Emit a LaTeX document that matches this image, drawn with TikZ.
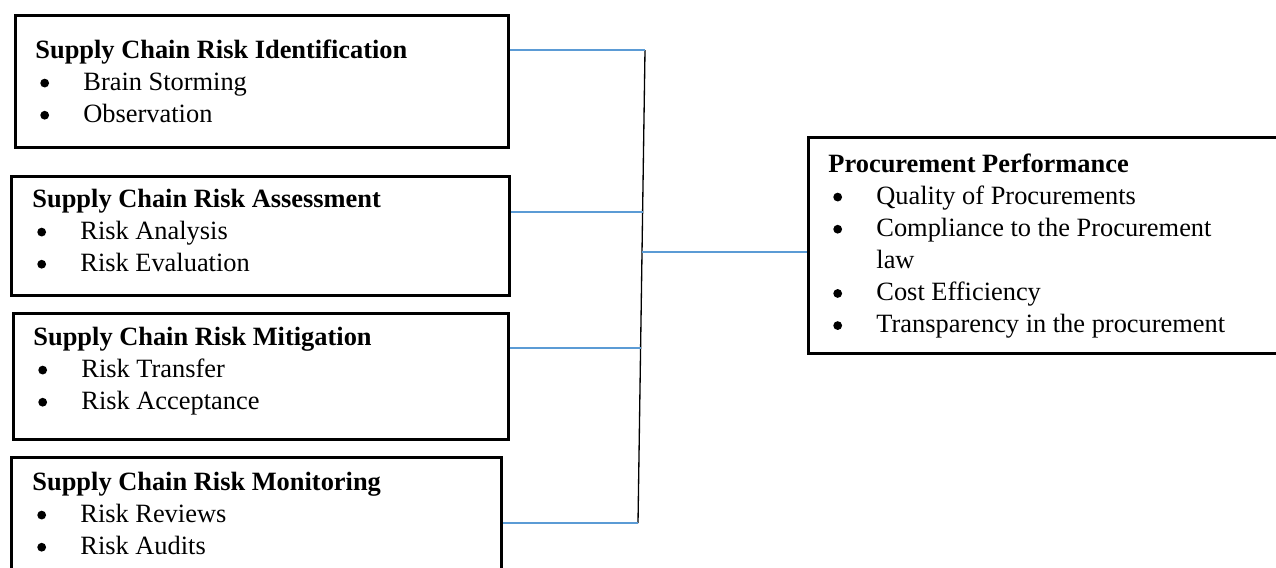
\documentclass[tikz,border=0pt]{standalone}
\usepackage{fontspec}
\setmainfont{Liberation Serif}
\def\px{0.4545pt}
\newcommand{\bigbul}{\tikz[baseline=0pt]\fill[black] (0pt,3.2pt) circle (2pt);}
\newcommand{\bitem}[1]{\hspace*{2.2pt}\makebox[19.6pt][l]{\bigbul}#1\par}
\definecolor{connblue}{HTML}{5B9BD5}
\begin{document}
\begin{tikzpicture}[x=0.4545pt,y=-0.4545pt,
  box/.style={draw=black, line width=1.3pt, inner sep=0pt, anchor=north west},
  txt/.style={anchor=base west, inner sep=0pt, font=\fontsize{12}{14.6}\selectfont},
  conn/.style={draw=connblue, line width=0.75pt},
  bus/.style={draw=black, line width=0.6pt}]
\useasboundingbox (0,0) rectangle (1276,567);
\clip (0,0) rectangle (1276,567);
% boxes
\node[box, minimum width=493*\px, minimum height=132*\px] (b1) at (14,14) {};
\node[box, minimum width=498*\px, minimum height=119*\px] (b2) at (10,175) {};
\node[box, minimum width=495*\px, minimum height=126*\px] (b3) at (12,312) {};
\node[box, minimum width=490*\px, minimum height=150*\px] (b4) at (10,456) {};
\node[box, minimum width=500*\px, minimum height=216*\px] (pp) at (807,136) {};
% texts
\node[txt] (t1) at (35,58) {\parbox[t]{220pt}{\textbf{Supply Chain Risk Identification}\par
  \bitem{Brain Storming}\bitem{Observation}}};
\node[txt] (t2) at (32,207) {\parbox[t]{220pt}{\textbf{Supply Chain Risk Assessment}\par
  \bitem{Risk Analysis}\bitem{Risk Evaluation}}};
\node[txt] (t3) at (33,345) {\parbox[t]{220pt}{\textbf{Supply Chain Risk Mitigation}\par
  \bitem{Risk Transfer}\bitem{Risk Acceptance}}};
\node[txt] (t4) at (32,490) {\parbox[t]{220pt}{\textbf{Supply Chain Risk Monitoring}\par
  \bitem{Risk Reviews}\bitem{Risk Audits}}};
\node[txt] (t5) at (828,172) {\parbox[t]{220pt}{\textbf{Procurement Performance}\par
  \bitem{Quality of Procurements}\bitem{Compliance to the Procurement}
  \hspace*{21.8pt}law\par
  \bitem{Cost Efficiency}\bitem{Transparency in the procurement}}};
% bus
\coordinate (j1) at (645,50);
\coordinate (j2) at (642.6,212);
\coordinate (jm) at (642,252);
\coordinate (j3) at (640.6,348);
\coordinate (j4) at (638,523);
\draw[bus] (j1) -- (j4);
\draw[conn] (b1.east |- j1) -- (j1);
\draw[conn] (b2.east |- j2) -- (j2);
\draw[conn] (b3.east |- j3) -- (j3);
\draw[conn] (b4.east |- j4) -- (j4);
\draw[conn] (jm) -- (pp.west |- jm);
\end{tikzpicture}
\end{document}
